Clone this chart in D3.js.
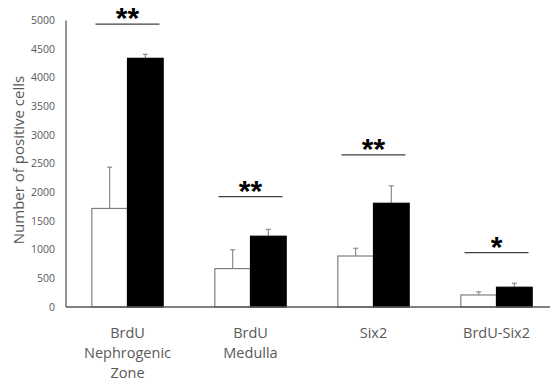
<!DOCTYPE html>
<html>
<head>
<meta charset="utf-8">
<script src="https://cdn.jsdelivr.net/npm/d3@7"></script>
<style>
  body { margin: 0; background: #fff; }
  svg text { font-family: "Open Sans", "Noto Sans", sans-serif; fill: #595959; }
</style>
</head>
<body>
<svg width="551" height="381"></svg>
<script>
const categories = [["BrdU", "Nephrogenic", "Zone"], ["BrdU", "Medulla"], ["Six2"], ["BrdU-Six2"]];
const controlValues = [1720, 670, 890, 210];
const controlErrors = [720, 330, 135, 55];
const treatedValues = [4340, 1235, 1810, 345];
const treatedErrors = [70, 120, 305, 70];
const sigLevels = [4935, 1925, 2655, 950];
const sigMarks = ["**", "**", "**", "*"];
const yTicks = [0, 500, 1000, 1500, 2000, 2500, 3000, 3500, 4000, 4500, 5000];

const svg = d3.select("svg");
const x0 = 66, x1 = 550;

const x = d3.scaleBand()
  .domain(d3.range(categories.length))
  .range([x0, 558])
  .paddingInner(0.42)
  .paddingOuter(0.21);

const y = d3.scaleLinear().domain([0, 5000]).range([307, 20.5]);

const groups = categories.map((c, i) => ({
  i,
  bars: [
    { v: controlValues[i], e: controlErrors[i], fill: "#fff", off: 0 },
    { v: treatedValues[i], e: treatedErrors[i], fill: "#000", off: 1 }
  ]
}));

const bw = x.bandwidth() / 2;

// y tick labels
svg.append("g")
  .selectAll("text")
  .data(yTicks)
  .join("text")
  .attr("x", 55)
  .attr("y", d => y(d))
  .attr("dy", "0.35em")
  .attr("text-anchor", "end")
  .attr("font-size", 10.5)
  .text(d => d);

// error bars
const errs = groups.flatMap(g => g.bars.map(b => ({ ...b, i: g.i })));
const eg = svg.append("g").attr("stroke", "#8c8c8c").attr("stroke-width", 1.2);
eg.selectAll("line.v")
  .data(errs)
  .join("line")
  .attr("class", "v")
  .attr("x1", d => x(d.i) + bw * d.off + bw / 2)
  .attr("x2", d => x(d.i) + bw * d.off + bw / 2)
  .attr("y1", d => y(d.v))
  .attr("y2", d => y(d.v + d.e));
eg.selectAll("line.c")
  .data(errs)
  .join("line")
  .attr("class", "c")
  .attr("x1", d => x(d.i) + bw * d.off + bw / 2 - 2.5)
  .attr("x2", d => x(d.i) + bw * d.off + bw / 2 + 2.5)
  .attr("y1", d => y(d.v + d.e))
  .attr("y2", d => y(d.v + d.e));

// bars
svg.append("g")
  .selectAll("rect")
  .data(errs)
  .join("rect")
  .attr("x", d => x(d.i) + bw * d.off)
  .attr("y", d => y(d.v))
  .attr("width", bw)
  .attr("height", d => y(0) - y(d.v))
  .attr("fill", d => d.fill)
  .attr("stroke", d => d.off ? "#000" : "#7f7f7f")
  .attr("stroke-width", 1.2);

// axes lines
svg.append("line")
  .attr("x1", x0).attr("x2", x0)
  .attr("y1", y(5000)).attr("y2", y(0))
  .attr("stroke", "#595959").attr("stroke-width", 1.3);
svg.append("line")
  .attr("x1", x0).attr("x2", x1)
  .attr("y1", y(0)).attr("y2", y(0))
  .attr("stroke", "#595959").attr("stroke-width", 1.3);

// significance
const sg = svg.append("g");
sg.selectAll("line")
  .data(sigLevels)
  .join("line")
  .attr("x1", (d, i) => x(i) + x.bandwidth() / 2 - 32)
  .attr("x2", (d, i) => x(i) + x.bandwidth() / 2 + 32)
  .attr("y1", d => y(d))
  .attr("y2", d => y(d))
  .attr("stroke", "#404040")
  .attr("stroke-width", 1.2);
sg.selectAll("text")
  .data(sigMarks)
  .join("text")
  .attr("x", (d, i) => x(i) + x.bandwidth() / 2)
  .attr("y", (d, i) => y(sigLevels[i]) + 4)
  .attr("text-anchor", "middle")
  .attr("font-size", 30)
  .attr("font-weight", "bold")
  .style("font-family", "'Liberation Sans', Arial, sans-serif")
  .style("fill", "#000")
  .text(d => d);

// category labels
svg.append("g")
  .selectAll("text")
  .data(categories)
  .join("text")
  .attr("x", (d, i) => x(i) + x.bandwidth() / 2)
  .attr("y", 338)
  .attr("text-anchor", "middle")
  .attr("font-size", 14.5)
  .selectAll("tspan")
  .data(d => d)
  .join("tspan")
  .attr("x", function () { return this.parentNode.getAttribute("x"); })
  .attr("dy", (d, j) => j ? 20 : 0)
  .text(d => d);

// y title
svg.append("text")
  .attr("transform", "translate(24,160) rotate(-90)")
  .attr("text-anchor", "middle")
  .attr("font-size", 15)
  .text("Number of positive cells");
</script>
</body>
</html>
